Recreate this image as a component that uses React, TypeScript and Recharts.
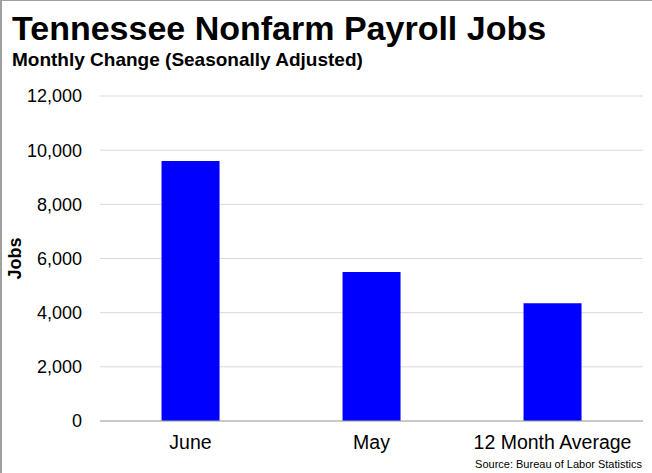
import { BarChart, Bar, XAxis, YAxis, CartesianGrid } from 'recharts'

const categories = ['June', 'May', '12 Month Average']
const jobs = [9600, 5500, 4350]
const yTicks = [0, 2000, 4000, 6000, 8000, 10000, 12000]

const data = categories.map((name, i) => ({ name, jobs: jobs[i] }))

const font = '"Liberation Sans", Arial, sans-serif'

export default function App() {
  return (
    <div
      style={{
        position: 'absolute',
        top: 0,
        left: 0,
        width: 652,
        height: 473,
        background: '#fff',
        fontFamily: font,
        boxSizing: 'border-box',
        borderTop: '1px solid #a0a0a0',
        borderLeft: '2px solid #a0a0a0',
      }}
    >
      <div
        style={{
          position: 'absolute',
          left: 10,
          top: 7,
          fontSize: 34,
          fontWeight: 'bold',
          color: '#000',
          lineHeight: '40px',
        }}
      >
        Tennessee Nonfarm Payroll Jobs
      </div>
      <div
        style={{
          position: 'absolute',
          left: 10,
          top: 48,
          fontSize: 19,
          fontWeight: 'bold',
          color: '#000',
          lineHeight: '22px',
        }}
      >
        Monthly Change (Seasonally Adjusted)
      </div>
      <div
        style={{
          position: 'absolute',
          right: 10,
          top: 457,
          fontSize: 11,
          color: '#000',
          lineHeight: '13px',
        }}
      >
        Source: Bureau of Labor Statistics
      </div>
      <div style={{ position: 'absolute', top: -1, left: -2 }}>
        <BarChart
          width={652}
          height={473}
          data={data}
          margin={{ top: 96, right: 9, bottom: 22, left: 20 }}
          barCategoryGap="34%"
        >
          <CartesianGrid vertical={false} stroke="#d9d9d9" />
          <XAxis
            dataKey="name"
            tick={{ fill: '#000', fontSize: 19.5, fontFamily: font }}
            tickLine={false}
            axisLine={{ stroke: '#a6a6a6' }}
            tickMargin={8}
          />
          <YAxis
            domain={[0, 12000]}
            ticks={yTicks}
            tickFormatter={(v: number) => v.toLocaleString('en-US')}
            tick={{ fill: '#000', fontSize: 18, fontFamily: font }}
            axisLine={false}
            tickLine={false}
            width={80}
            tickMargin={12}
            label={{
              value: 'Jobs',
              angle: -90,
              position: 'insideLeft',
              dx: -10,
              style: { fontSize: 18, fontWeight: 'bold', fill: '#000', fontFamily: font, textAnchor: 'middle' },
            }}
          />
          <Bar dataKey="jobs" fill="#0000ff" isAnimationActive={false} />
        </BarChart>
      </div>
    </div>
  )
}
